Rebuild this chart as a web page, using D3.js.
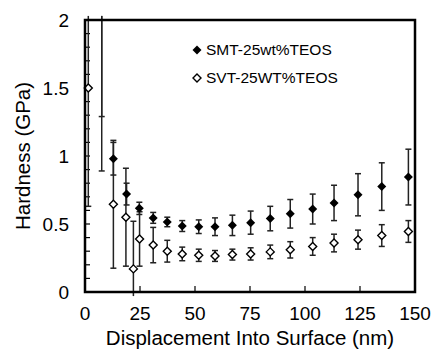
<!DOCTYPE html>
<html>
<head>
<meta charset="utf-8">
<script src="https://cdn.jsdelivr.net/npm/d3@7"></script>
<style>
  body { margin: 0; background: #fff; }
  text { font-family: "Liberation Sans", Arial, sans-serif; fill: #000; }
</style>
</head>
<body>
<svg id="chart" width="433" height="350"></svg>
<script>
// SMT-25wt%TEOS (filled diamonds)
let smtX   = [7.6, 12.9, 18.9, 24.7, 31, 37.4, 44.2, 51.7, 59.1, 67, 75.3, 84.2, 93.3, 103.5, 113.2, 124.1, 134.9, 147];
let smtY   = [2.25, 0.98, 0.72, 0.615, 0.545, 0.515, 0.485, 0.48, 0.48, 0.49, 0.51, 0.54, 0.575, 0.61, 0.655, 0.715, 0.775, 0.845];
let smtErr = [0.96, 0.12, 0.08, 0.045, 0.04, 0.035, 0.04, 0.05, 0.065, 0.075, 0.085, 0.09, 0.105, 0.11, 0.13, 0.155, 0.175, 0.205];

// SVT-25WT%TEOS (open diamonds)
let svtX   = [1.5, 7.6, 12.9, 18.6, 22, 24.8, 31, 37.4, 44.2, 51.7, 59.1, 67, 75.3, 84.2, 93.3, 103.5, 113.2, 124.1, 134.9, 147];
let svtY   = [1.5, 2.4, 0.645, 0.55, 0.17, 0.39, 0.345, 0.30, 0.28, 0.27, 0.265, 0.275, 0.28, 0.295, 0.31, 0.335, 0.36, 0.385, 0.415, 0.445];
let svtErr = [0.87, 1.51, 0.47, 0.36, 0.35, 0.2, 0.13, 0.08, 0.05, 0.045, 0.04, 0.04, 0.045, 0.05, 0.06, 0.065, 0.065, 0.07, 0.08, 0.08];

let xTicks = [0, 25, 50, 75, 100, 125, 150];
let yTicks = [0, 0.5, 1, 1.5, 2];
let seriesNames = ["SMT-25wt%TEOS", "SVT-25WT%TEOS"];

let svg = d3.select("#chart");

let x = d3.scaleLinear().domain([0, 150]).range([85, 415]);
let y = d3.scaleLinear().domain([0, 2]).range([292, 20]);

function diamond(r) {
  return "M0," + (-r) + "L" + r + ",0L0," + r + "L" + (-r) + ",0Z";
}

function toPoints(xs, ys, es) {
  return xs.map((v, i) => ({x: v, y: ys[i], e: es[i]}));
}

let smt = toPoints(smtX, smtY, smtErr);
let svt = toPoints(svtX, svtY, svtErr);

// minor ticks on y axis, inside
let yMinor = d3.range(0, 2.001, 0.1);
svg.selectAll(".ymin")
   .data(yMinor)
   .enter()
   .append("line")
   .attr("x1", x(0)).attr("x2", x(0) + 5)
   .attr("y1", d => y(d)).attr("y2", d => y(d))
   .attr("stroke", "#000").attr("stroke-width", 1.2);

// x ticks inside
svg.selectAll(".xtick")
   .data(xTicks.slice(1, -1))
   .enter()
   .append("line")
   .attr("x1", d => x(d)).attr("x2", d => x(d))
   .attr("y1", y(0)).attr("y2", y(0) - 6)
   .attr("stroke", "#000").attr("stroke-width", 1.2);

// error bars, clipped a little past the frame like the original
let yLo = -0.03, yHi = 2.03;
function drawErrors(data, cls) {
  let g = svg.append("g").attr("class", cls);
  data.forEach(d => {
    let top = Math.min(d.y + d.e, yHi);
    let bot = Math.max(d.y - d.e, yLo);
    g.append("line")
     .attr("x1", x(d.x)).attr("x2", x(d.x))
     .attr("y1", y(top)).attr("y2", y(bot))
     .attr("stroke", "#222").attr("stroke-width", 1.5);
    if (d.y + d.e <= yHi) {
      g.append("line")
       .attr("x1", x(d.x) - 3).attr("x2", x(d.x) + 3)
       .attr("y1", y(top)).attr("y2", y(top))
       .attr("stroke", "#222").attr("stroke-width", 1.5);
    }
    if (d.y - d.e >= yLo) {
      g.append("line")
       .attr("x1", x(d.x) - 3).attr("x2", x(d.x) + 3)
       .attr("y1", y(bot)).attr("y2", y(bot))
       .attr("stroke", "#222").attr("stroke-width", 1.5);
    }
  });
}
drawErrors(smt, "smt-err");
drawErrors(svt, "svt-err");

// markers (only those inside the plot)
svg.selectAll(".svt")
   .data(svt.filter(d => d.y <= 2))
   .enter()
   .append("path")
   .attr("d", diamond(4))
   .attr("transform", d => "translate(" + x(d.x) + "," + y(d.y) + ")")
   .attr("fill", "#fff").attr("stroke", "#000").attr("stroke-width", 1.4);

svg.selectAll(".smt")
   .data(smt.filter(d => d.y <= 2))
   .enter()
   .append("path")
   .attr("d", diamond(4.5))
   .attr("transform", d => "translate(" + x(d.x) + "," + y(d.y) + ")")
   .attr("fill", "#000");

// frame
svg.append("rect")
   .attr("x", x(0)).attr("y", y(2))
   .attr("width", x(150) - x(0)).attr("height", y(0) - y(2))
   .attr("fill", "none").attr("stroke", "#000").attr("stroke-width", 2.5);

// tick labels
svg.selectAll(".ylab")
   .data(yTicks)
   .enter()
   .append("text")
   .attr("x", 69).attr("y", d => y(d))
   .attr("dy", "0.35em")
   .attr("text-anchor", "end")
   .style("font-size", "19px")
   .text(d => d);

svg.selectAll(".xlab")
   .data(xTicks)
   .enter()
   .append("text")
   .attr("x", d => x(d)).attr("y", 320)
   .attr("text-anchor", "middle")
   .style("font-size", "19px")
   .text(d => d);

// axis titles
svg.append("text")
   .attr("x", 250).attr("y", 345)
   .attr("text-anchor", "middle")
   .style("font-size", "20.5px")
   .text("Displacement Into Surface (nm)");

svg.append("text")
   .attr("transform", "translate(30," + (y(1)) + ") rotate(-90)")
   .attr("text-anchor", "middle")
   .style("font-size", "20.5px")
   .text("Hardness (GPa)");

// legend
let legY = [50, 78];
svg.append("path")
   .attr("d", diamond(4.5))
   .attr("transform", "translate(197," + legY[0] + ")")
   .attr("fill", "#000");
svg.append("path")
   .attr("d", diamond(4))
   .attr("transform", "translate(197," + legY[1] + ")")
   .attr("fill", "#fff").attr("stroke", "#000").attr("stroke-width", 1.4);
svg.selectAll(".leg")
   .data(seriesNames)
   .enter()
   .append("text")
   .attr("x", 206).attr("y", (d, i) => legY[i])
   .attr("dy", "0.35em")
   .style("font-size", "15.5px")
   .text(d => d);
</script>
</body>
</html>
